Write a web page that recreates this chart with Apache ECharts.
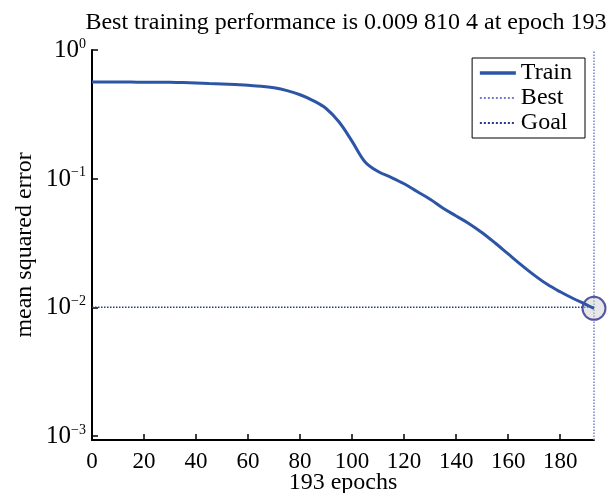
<!DOCTYPE html>
<html>
<head>
<meta charset="utf-8">
<script src="https://cdn.jsdelivr.net/npm/echarts@6/dist/echarts.min.js"></script>
<style>html,body{margin:0;padding:0;background:#fff;}#c{width:607px;height:493px;}</style>
</head>
<body>
<div id="c"></div>
<script>
const epochs = [0,5,10,15,20,25,30,35,40,45,50,55,60,65,70,75,80,85,90,95,100,105,110,115,120,125,130,135,140,145,150,155,160,165,170,175,180,185,190,193];
const mse = [0.5636,0.5636,0.5636,0.5630,0.5623,0.5617,0.5610,0.5585,0.5546,0.5495,0.5445,0.5383,0.5321,0.5236,0.5082,0.4831,0.4487,0.4046,0.3508,0.2754,0.1950,0.1349,0.1135,0.1023,0.0912,0.0794,0.0692,0.0589,0.0513,0.0447,0.0380,0.0316,0.0260,0.0214,0.0178,0.0151,0.0132,0.0117,0.0105,0.0098];
const bestEpoch = 193;
const bestPerf = 0.0098104;
const goal = 0.01;
const xTicks = [0,20,40,60,80,100,120,140,160,180];
const yTicks = [0.001,0.01,0.1,1];
const yMin = 0.00093, yMax = 1;
const titleText = 'Best training performance is 0.009 810 4 at epoch 193';
const xName = '193 epochs';
const yName = 'mean squared error';
const legendNames = ['Train','Best','Goal'];

const font = 'Liberation Serif';
const chart = echarts.init(document.getElementById('c'));
chart.setOption({
  animation: false,
  title: {
    text: titleText, left: 341, top: 6, textAlign: 'center',
    textStyle: {fontFamily: font, fontSize: 24, fontWeight: 'normal', color: '#000'}
  },
  legend: {
    data: [{name: legendNames[0], lineStyle: {width: 3.5}}, legendNames[1], legendNames[2]],
    orient: 'vertical', right: 22, top: 58,
    borderColor: '#000', borderWidth: 1, padding: [3, 13, 3, 6],
    itemWidth: 36, itemHeight: 14, itemGap: 1, itemTextGap: 6,
    itemStyle: {opacity: 0},
    textStyle: {fontFamily: font, fontSize: 24, color: '#000', lineHeight: 24}
  },
  grid: {left: 92, right: 13, top: 50, bottom: 53, containLabel: false, outerBoundsMode: 'none'},
  xAxis: {
    type: 'value', min: 0, max: bestEpoch,
    name: xName, nameLocation: 'middle', nameGap: 31, nameMoveOverlap: false,
    nameTextStyle: {fontFamily: font, fontSize: 24, color: '#000'},
    axisLine: {show: true, lineStyle: {color: '#000', width: 2}},
    axisTick: {show: true, inside: true, length: 6, customValues: xTicks, lineStyle: {color: '#000', width: 1.5}},
    axisLabel: {customValues: xTicks, margin: 10, fontFamily: font, fontSize: 23, color: '#000'},
    splitLine: {show: false}
  },
  yAxis: {
    type: 'log', min: yMin, max: yMax, logBase: 10,
    name: yName, nameLocation: 'middle', nameGap: 55, nameMoveOverlap: false,
    nameTextStyle: {fontFamily: font, fontSize: 24, color: '#000'},
    axisLine: {show: true, lineStyle: {color: '#000', width: 2}},
    axisTick: {show: true, inside: true, length: 6, customValues: yTicks, lineStyle: {color: '#000', width: 1.5}},
    axisLabel: {
      customValues: yTicks, margin: 6,
      formatter: function (v) {
        const e = Math.round(Math.log10(v));
        return '{b|10}{s|' + (e < 0 ? '\u2212' + (-e) : e) + '}';
      },
      rich: {
        b: {fontFamily: font, fontSize: 25, color: '#000', lineHeight: 26, verticalAlign: 'bottom'},
        s: {fontFamily: font, fontSize: 14, color: '#000', verticalAlign: 'top', lineHeight: 14}
      }
    },
    splitLine: {show: false}
  },
  series: [
    {
      name: 'Train', type: 'line', smooth: 0.35, showSymbol: false, symbol: 'none', z: 4,
      data: epochs.map((e, i) => [e, mse[i]]),
      lineStyle: {color: '#2d55a6', width: 3}, itemStyle: {color: '#2d55a6'}
    },
    {
      name: 'Best', type: 'line', symbol: 'none', clip: false, z: 2,
      data: [[bestEpoch, yMin], [bestEpoch, yMax]],
      lineStyle: {color: '#7480cc', width: 1.5, type: 'dotted'}, itemStyle: {color: '#7480cc'}
    },
    {
      name: 'Goal', type: 'line', symbol: 'none', clip: false, z: 2,
      data: [[0, goal], [bestEpoch, goal]],
      lineStyle: {color: '#2c3a86', width: 1.5, type: 'dotted'}, itemStyle: {color: '#2c3a86'}
    },
    {
      name: 'bestPoint', type: 'scatter', clip: false, z: 3,
      data: [[bestEpoch, bestPerf]], symbolSize: 23,
      itemStyle: {color: 'rgba(205,205,205,0.6)', borderColor: '#2e2f8e', borderWidth: 2}
    }
  ]
});
</script>
</body>
</html>
